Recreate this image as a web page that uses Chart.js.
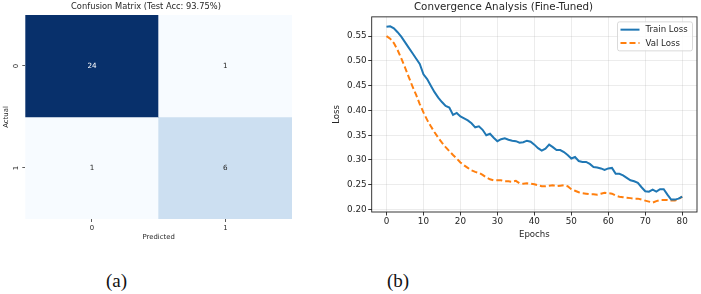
<!DOCTYPE html>
<html><head><meta charset="utf-8">
<script src="https://cdn.jsdelivr.net/npm/chart.js@4.4.1/dist/chart.umd.min.js"></script>
<style>
html,body{margin:0;padding:0;background:#fff;width:701px;height:294px;overflow:hidden;}
#cm{position:absolute;left:0;top:0;}
#cv{position:absolute;left:310px;top:0;}
.cap{position:absolute;font-family:"Liberation Serif","DejaVu Serif",serif;font-size:19px;color:#111;width:60px;text-align:center;line-height:20px;}
</style></head><body>
<canvas id="cm" width="310" height="250"></canvas>
<canvas id="cv" width="391" height="250"></canvas>
<div class="cap" style="left:86.5px;top:270.5px">(a)</div>
<div class="cap" style="left:368px;top:270.5px">(b)</div>
<script>
// ---------- data ----------
const classes = ["0", "1"];
const confusion = [[24, 1], [1, 6]];
const cmTitle = "Confusion Matrix (Test Acc: 93.75%)";
const cmXLabel = "Predicted";
const cmYLabel = "Actual";

const epochs = [0,1,2,3,4,5,6,7,8,9,10,11,12,13,14,15,16,17,18,19,20,21,22,23,24,25,26,27,28,29,30,31,32,33,34,35,36,37,38,39,40,41,42,43,44,45,46,47,48,49,50,51,52,53,54,55,56,57,58,59,60,61,62,63,64,65,66,67,68,69,70,71,72,73,74,75,76,77,78,79,80];
const trainLoss = [0.569,0.570,0.566,0.558,0.549,0.538,0.527,0.516,0.505,0.494,
  0.473,0.4635,0.450,0.437,0.426,0.417,0.409,0.406,0.391,0.395,
  0.388,0.384,0.380,0.374,0.366,0.368,0.361,0.350,0.353,0.345,
  0.338,0.342,0.344,0.341,0.339,0.338,0.335,0.336,0.339,0.337,
  0.331,0.324,0.319,0.323,0.331,0.326,0.320,0.320,0.316,0.310,
  0.303,0.306,0.298,0.296,0.296,0.292,0.286,0.285,0.283,0.280,
  0.283,0.284,0.272,0.272,0.269,0.264,0.259,0.257,0.254,0.245,
  0.237,0.236,0.240,0.236,0.241,0.241,0.230,0.220,0.220,0.222,0.226];
const valLoss = [0.550,0.545,0.536,0.522,0.505,0.487,0.468,0.449,0.432,0.413,
  0.396,0.381,0.368,0.356,0.345,0.335,0.326,0.318,0.310,0.303,
  0.295,0.289,0.284,0.279,0.276,0.274,0.270,0.265,0.261,0.259,
  0.259,0.259,0.257,0.257,0.256,0.258,0.253,0.252,0.253,0.252,
  0.251,0.249,0.247,0.247,0.248,0.249,0.247,0.248,0.249,0.247,
  0.241,0.238,0.235,0.233,0.232,0.231,0.231,0.230,0.232,0.234,
  0.233,0.232,0.228,0.226,0.225,0.224,0.223,0.222,0.222,0.220,
  0.218,0.216,0.214,0.217,0.219,0.219,0.219,0.218,0.218,0.221,0.226];
const xTicks = [0,10,20,30,40,50,60,70,80];
const yTicks = [0.20,0.25,0.30,0.35,0.40,0.45,0.50,0.55];
const lossTitle = "Convergence Analysis (Fine-Tuned)";
const seriesNames = ["Train Loss", "Val Loss"];

// ---------- styles ----------
Chart.defaults.font.family = "'DejaVu Sans', sans-serif";
Chart.defaults.color = "#262626";
Chart.defaults.animation = false;

const bluesStops = ["#f7fbff","#deebf7","#c6dbef","#9ecae1","#6baed6","#4292c6","#2171b5","#08519c","#08306b"];
function hex2rgb(h){return [1,3,5].map(i=>parseInt(h.substr(i,2),16));}
function blues(t){
  t = Math.max(0, Math.min(1, t));
  const p = t*(bluesStops.length-1), i = Math.min(Math.floor(p), bluesStops.length-2), f = p-i;
  const a = hex2rgb(bluesStops[i]), b = hex2rgb(bluesStops[i+1]);
  const c = a.map((v,k)=>Math.round(v+(b[k]-v)*f));
  return {css:`rgb(${c[0]},${c[1]},${c[2]})`, lum:(0.299*c[0]+0.587*c[1]+0.114*c[2])/255};
}
const flat = confusion.flat();
const vmin = Math.min(...flat), vmax = Math.max(...flat);

// ---------- confusion matrix ----------
const cellText = {
  id:'cellText',
  afterDatasetsDraw(chart){
    const ctx = chart.ctx;
    ctx.save();
    ctx.font = "7.2px 'DejaVu Sans'";
    ctx.textAlign = 'center'; ctx.textBaseline = 'middle';
    chart.data.datasets.forEach((ds, r)=>{
      chart.getDatasetMeta(r).data.forEach((el, c)=>{
        const v = confusion[r][c];
        const col = blues((v-vmin)/(vmax-vmin));
        ctx.fillStyle = col.lum < 0.5 ? '#ffffff' : '#262626';
        ctx.fillText(String(v), el.x, (el.y+el.base)/2);
      });
    });
    ctx.restore();
  }
};

new Chart(document.getElementById('cm'), {
  type:'bar',
  data:{
    labels: classes,
    datasets: confusion.map((row, r)=>({
      data: row.map(()=>[r, r+1]),
      backgroundColor: row.map(v=>blues((v-vmin)/(vmax-vmin)).css),
      borderWidth:0, barPercentage:1, categoryPercentage:1, grouped:false
    }))
  },
  options:{
    responsive:false, devicePixelRatio:1,
    layout:{padding:{left:0,right:18,top:0,bottom:0}},
    plugins:{
      legend:{display:false}, tooltip:{enabled:false},
      title:{display:true, text:cmTitle, font:{size:8.3, weight:'normal'}, color:'#262626', padding:{top:2,bottom:3}}
    },
    scales:{
      x:{
        type:'category', offset:true,
        border:{display:false},
        grid:{display:true, offset:false, drawOnChartArea:false, drawTicks:true, tickLength:3, tickColor:'#333', tickWidth:0.8},
        ticks:{font:{size:6.9}, color:'#262626', padding:2.5},
        title:{display:true, text:cmXLabel, font:{size:6.9}, color:'#262626', padding:{top:0,bottom:8.6}},
        afterFit(s){s.height = 31;}
      },
      y:{
        type:'linear', min:0, max:2, reverse:true,
        border:{display:false},
        afterBuildTicks(s){s.ticks = classes.map((_,i)=>({value:i+0.5}));},
        grid:{display:true, drawOnChartArea:false, drawTicks:true, tickLength:3, tickColor:'#333', tickWidth:0.8},
        ticks:{font:{size:6.9}, color:'#262626', padding:4, minRotation:90, maxRotation:90, crossAlign:'center',
          callback:(v)=>classes[Math.floor(v)]},
        title:{display:true, text:cmYLabel, font:{size:6.9}, color:'#262626', padding:{top:1.9,bottom:0}},
        afterFit(s){s.width = 25.3;}
      }
    }
  },
  plugins:[cellText]
});

// ---------- loss curves ----------
const frameAndLegend = {
  id:'frameAndLegend',
  afterDraw(chart){
    const {ctx, chartArea:a} = chart;
    ctx.save();
    ctx.strokeStyle = '#222'; ctx.lineWidth = 0.9;
    ctx.strokeRect(a.left, a.top, a.right-a.left, a.bottom-a.top);
    // legend
    const bw = 75, bh = 29, bx = a.right-4.5-bw, by = a.top+5;
    ctx.fillStyle = 'rgba(255,255,255,0.85)';
    ctx.strokeStyle = '#d0d0d0'; ctx.lineWidth = 0.8;
    ctx.beginPath();
    if (ctx.roundRect) ctx.roundRect(bx, by, bw, bh, 2); else ctx.rect(bx, by, bw, bh);
    ctx.fill(); ctx.stroke();
    ctx.font = "8.6px 'DejaVu Sans'";
    ctx.textBaseline = 'middle'; ctx.textAlign = 'left';
    chart.data.datasets.forEach((ds, i)=>{
      const y = by + 7.8 + i*13.4;
      ctx.strokeStyle = ds.borderColor; ctx.lineWidth = ds.borderWidth;
      ctx.setLineDash(ds.borderDash || []);
      ctx.beginPath(); ctx.moveTo(bx+3, y); ctx.lineTo(bx+22, y); ctx.stroke();
      ctx.setLineDash([]);
      ctx.fillStyle = '#262626';
      ctx.fillText(ds.label, bx+28, y+0.5);
    });
    ctx.restore();
  }
};

new Chart(document.getElementById('cv'), {
  type:'line',
  data:{
    datasets:[
      {label:seriesNames[0], data:epochs.map((e,i)=>({x:e, y:trainLoss[i]})), borderColor:'#1f77b4', borderWidth:2, pointRadius:0, tension:0, fill:false},
      {label:seriesNames[1], data:epochs.map((e,i)=>({x:e, y:valLoss[i]})), borderColor:'#ff7f0e', borderWidth:2, borderDash:[6,3], pointRadius:0, tension:0, fill:false}
    ]
  },
  options:{
    responsive:false, devicePixelRatio:1,
    layout:{padding:{left:0,right:4,top:0,bottom:0}},
    plugins:{
      legend:{display:false}, tooltip:{enabled:false},
      title:{display:true, text:lossTitle, font:{size:10.3, weight:'normal'}, color:'#262626', padding:{top:1.5,bottom:3}}
    },
    scales:{
      x:{
        type:'linear', min:-4, max:84,
        afterBuildTicks(s){s.ticks = xTicks.map(v=>({value:v}));},
        border:{display:false},
        grid:{color:'rgba(176,176,176,0.3)', lineWidth:0.8, tickLength:3.5, tickColor:'#222', tickWidth:0.9},
        ticks:{font:{size:8.8}, color:'#262626', padding:1.2, maxRotation:0, callback:(v)=>String(v)},
        title:{display:true, text:'Epochs', font:{size:8.6}, color:'#262626', padding:{top:0,bottom:9.9}},
        afterFit(s){s.height = 38;}
      },
      y:{
        type:'linear', min:0.195, max:0.589,
        afterBuildTicks(s){s.ticks = yTicks.map(v=>({value:v}));},
        border:{display:false},
        grid:{color:'rgba(176,176,176,0.3)', lineWidth:0.8, tickLength:3.5, tickColor:'#222', tickWidth:0.9},
        ticks:{font:{size:8.8}, color:'#262626', padding:1.5, callback:(v)=>v.toFixed(2)},
        title:{display:true, text:'Loss', font:{size:8.6}, color:'#262626', padding:{top:21.5,bottom:0}},
        afterFit(s){s.width = 61.7;}
      }
    }
  },
  plugins:[frameAndLegend]
});
</script>
</body></html>
